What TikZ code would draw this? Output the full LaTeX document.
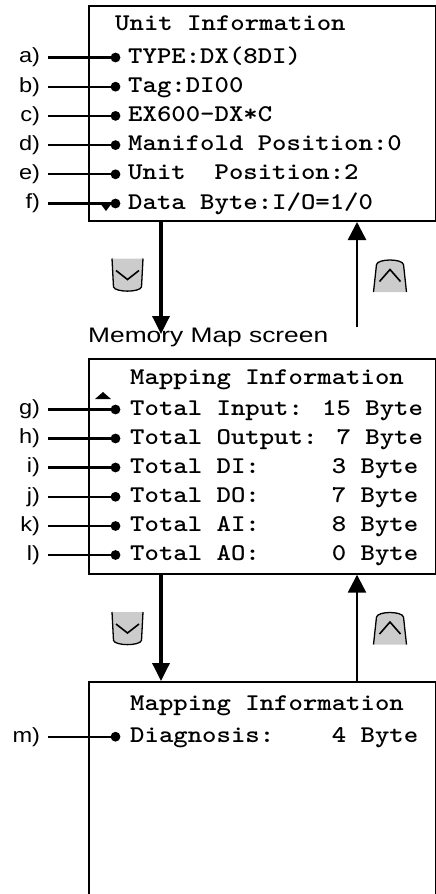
\documentclass[tikz,border=0pt]{standalone}
\usepackage{fontspec}
\usepackage{graphicx}
\usetikzlibrary{arrows.meta}
\newfontfamily\helv{Liberation Sans}
\definecolor{keygray}{gray}{0.8}
% LCD screen text: bold typewriter, widened to the panel's character pitch
\newcommand\lcd[1]{\scalebox{1.143}[1]{\ttfamily\bfseries\fontsize{24}{24}\selectfont #1}}
% callout letters
\newcommand\callout[1]{\scalebox{1.15}[1]{\helv\fontsize{20.5}{20.5}\selectfont #1}}
% screen caption, set to a fixed width
\newcommand\screencap[1]{\resizebox{240pt}{\height}{\helv\fontsize{21}{21}\selectfont #1}}
\begin{document}
\begin{tikzpicture}[x=1pt,y=-1pt,
  lcdbox/.style={draw, line width=2pt, inner sep=0pt, anchor=north west, minimum width=346.5pt},
  lead/.style={line width=2.3pt},
  dotmark/.style={radius=4.9pt},
  lbl/.style={inner sep=0pt, outer xsep=8pt, anchor=east},
  txt/.style={inner sep=0pt, anchor=base west},
  flowdown/.style={line width=3.5pt, -{Triangle[width=17pt,length=18pt]}},
  flowup/.style={line width=2.5pt, -{Triangle[width=18pt,length=18pt]}},
  downkey/.pic={
    \fill[keygray] (-15.5,-16.5) -- (-14,12) .. controls (-12,17.5) and (12,17.5) .. (14,12) -- (15.5,-16.5) -- cycle;
    \draw[line width=1.3pt] (-15.5,-16.5) -- (-14,12) .. controls (-12,17.5) and (12,17.5) .. (14,12) -- (15.5,-16.5);
    \draw[line width=1.6pt] (-11.5,-4.5) -- (0,4.5) -- (11.5,-4.5);
  },
  upkey/.pic={
    \fill[keygray] (-16.5,16.5) -- (-13.5,-11) .. controls (-12,-17) and (12,-17) .. (13.5,-11) -- (16.5,16.5) -- cycle;
    \draw[line width=1.3pt] (-16.5,16.5) -- (-13.5,-11) .. controls (-12,-17) and (12,-17) .. (13.5,-11) -- (16.5,16.5);
    \draw[line width=1.6pt] (-10.5,6) -- (0,-6) -- (10.5,6);
  }]
\useasboundingbox (0,0) rectangle (436,894);

% ---- screen 1: unit information ----
\node[lcdbox, minimum height=215pt] (scr1) at (88,5) {};
\node[txt] (t10) at (115,30) {\lcd{Unit Information}};
\foreach \k/\y/\s in {a/57.5/{TYPE:DX(8DI)}, b/86.7/{Tag:DI00}, c/115.9/{EX600-DX*C},
    d/145.1/{Manifold Position:0}, e/174.3/{Unit\ \ Position:2}, f/203.5/{Data Byte:I/O=1/0}}{
  \node[lbl] (l\k) at (48,\y) {\callout{\k)}};
  \coordinate (p\k) at (115.5,\y);
  \node[txt] (t\k) at (128,\y+5.5) {\lcd{\s}};
  \draw[lead] (l\k.east) -- (p\k);
  \fill[dotmark] (p\k) circle;
}
\fill (100,203) -- (112,203) -- (106,211) -- cycle;

% ---- screen 2: mapping information ----
\node[lcdbox, minimum height=215pt] (scr2) at (88,357.7) {};
\node[txt] (t20) at (130,384) {\lcd{Mapping Information}};
\foreach \k/\y/\s in {g/409.5/{Total Input: 15 Byte}, h/438.5/{Total Output: 7 Byte},
    i/467.5/{Total DI:\ \ \ \ \ 3 Byte}, j/496.8/{Total DO:\ \ \ \ \ 7 Byte},
    k/526/{Total AI:\ \ \ \ \ 8 Byte}, l/555/{Total AO:\ \ \ \ \ 0 Byte}}{
  \node[lbl] (l\k) at (48,\y) {\callout{\k)}};
  \coordinate (p\k) at (115.5,\y);
  \node[txt] (t\k) at (130,\y+5.5) {\lcd{\s}};
  \draw[lead] (l\k.east) -- (p\k);
  \fill[dotmark] (p\k) circle;
}
\fill (95,399) -- (111,399) -- (103,392) -- cycle;

% ---- screen 3: mapping information (diagnosis) ----
\node[lcdbox, minimum height=230pt] (scr3) at (88,681) {};
\node[txt] (t30) at (130,710) {\lcd{Mapping Information}};
\node[lbl] (lm) at (48,736.7) {\callout{m)}};
\coordinate (pm) at (115.5,736.7);
\node[txt] (tm) at (130,742.2) {\lcd{Diagnosis:\ \ \ \ 4 Byte}};
\draw[lead] (lm.east) -- (pm);
\fill[dotmark] (pm) circle;

% ---- caption ----
\node[txt] (cap) at (88,342) {\screencap{Memory Map screen}};

% ---- navigation arrows ----
\coordinate (dn) at (161,334);
\coordinate (up) at (357,327);
\draw[flowdown] (scr1.south -| dn) -- (dn);
\draw[flowup] (up) -- (up |- scr1.south);
\draw[flowdown] (scr2.south -| dn) -- (dn |- scr3.north);
\draw[flowup] (up |- scr3.north) -- (up |- scr2.south);

% ---- keys ----
\pic at (127.5,275) {downkey};
\pic at (390,275.5) {upkey};
\pic at (127.5,628.5) {downkey};
\pic at (390,628) {upkey};
\end{tikzpicture}
\end{document}
